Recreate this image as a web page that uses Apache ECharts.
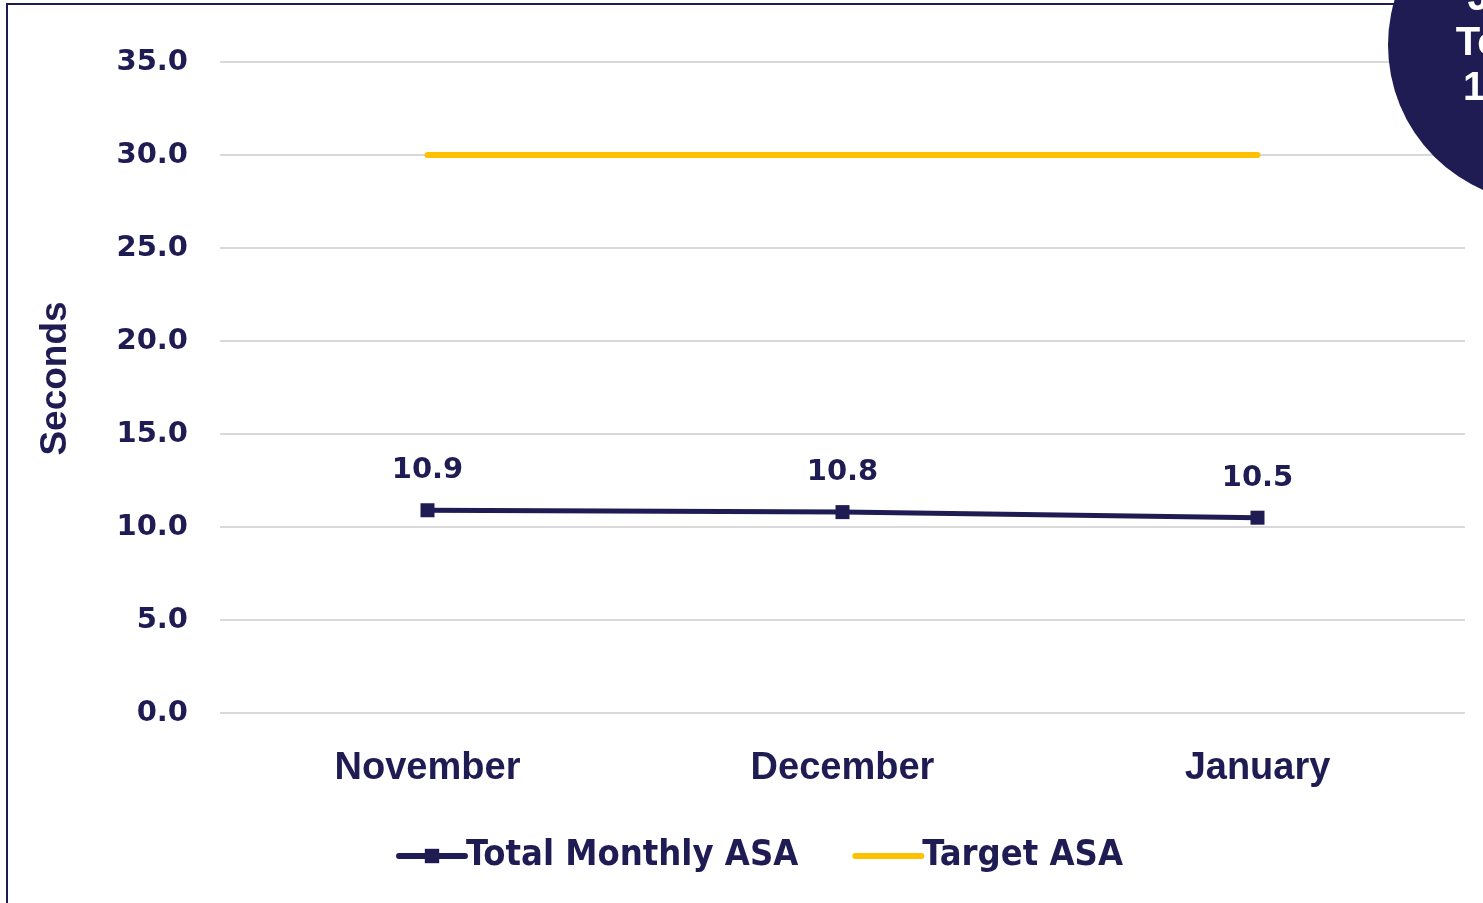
<!DOCTYPE html>
<html>
<head>
<meta charset="utf-8">
<script src="https://cdn.jsdelivr.net/npm/echarts@6/dist/echarts.min.js"></script>
<style>
  html, body { margin: 0; padding: 0; background: #fff; }
  #chart { width: 1483px; height: 903px; }
</style>
</head>
<body>
<div id="chart"></div>
<script>
const NAVY = "#1f1c54", GOLD = "#ffc000";

// data
const months = ["November", "December", "January"];
const totalAsa = [10.9, 10.8, 10.5];
const targetAsa = [30, 30, 30];
const badgeLines = ["Jan", "Total", "10.5"];

const chart = echarts.init(document.getElementById("chart"));

chart.setOption({
  backgroundColor: "#fff",
  animation: false,
  grid: { left: 220, right: 18, top: 62, bottom: 190 },
  legend: {
    bottom: 29, left: 396, padding: 0,
    itemWidth: 66, itemHeight: 18, itemGap: 54,
    lineStyle: { width: 6, cap: "round" },
    textStyle: { fontFamily: "DejaVu Sans Condensed", fontWeight: "bold", fontSize: 36, color: NAVY, padding: [0, 0, 0, -4] },
    data: ["Total Monthly ASA", { name: "Target ASA", itemStyle: { opacity: 0 } }],
  },
  xAxis: {
    type: "category", data: months,
    axisLine: { show: false }, axisTick: { show: false },
    axisLabel: { color: NAVY, fontFamily: "Liberation Sans", fontWeight: "bold", fontSize: 38, margin: 37 },
  },
  yAxis: {
    type: "value", min: 0, max: 35, interval: 5,
    name: "Seconds", nameLocation: "middle", nameGap: 146, nameRotate: 90,
    nameTextStyle: { color: NAVY, fontFamily: "Liberation Sans", fontWeight: "bold", fontSize: 37, padding: [0, 0, 0, 18] },
    axisLabel: { color: NAVY, fontFamily: "DejaVu Sans", fontWeight: "bold", fontSize: 29, margin: 32,
      formatter: v => v.toFixed(1) },
    splitLine: { lineStyle: { color: "#d9d9d9", width: 2 } },
  },
  series: [
    {
      name: "Total Monthly ASA", type: "line", data: totalAsa,
      symbol: "rect", symbolSize: 14,
      lineStyle: { color: NAVY, width: 5 }, itemStyle: { color: NAVY },
      label: { show: true, position: "top", distance: 18, color: NAVY, fontFamily: "DejaVu Sans", fontWeight: "bold", fontSize: 29,
        formatter: p => p.value.toFixed(1) },
    },
    {
      name: "Target ASA", type: "line", data: targetAsa,
      symbol: "none", lineStyle: { color: GOLD, width: 6, cap: "round" }, itemStyle: { color: GOLD },
    },
  ],
  graphic: [
    { type: "rect", z: 100, silent: true, shape: { x: 7, y: 4, width: 1700, height: 1000 },
      style: { fill: null, stroke: NAVY, lineWidth: 2 } },
    { type: "circle", z: 110, silent: true, shape: { cx: 1546, cy: 45, r: 158 }, style: { fill: NAVY } },
    ...badgeLines.map((t, i) => ({
      type: "text", z: 120, silent: true, x: 1502, y: -1 + i * 45,
      style: { text: t, fill: "#fff", font: "bold 40px 'Liberation Sans'", align: "center", verticalAlign: "middle" },
    })),
  ],
});
</script>
</body>
</html>
